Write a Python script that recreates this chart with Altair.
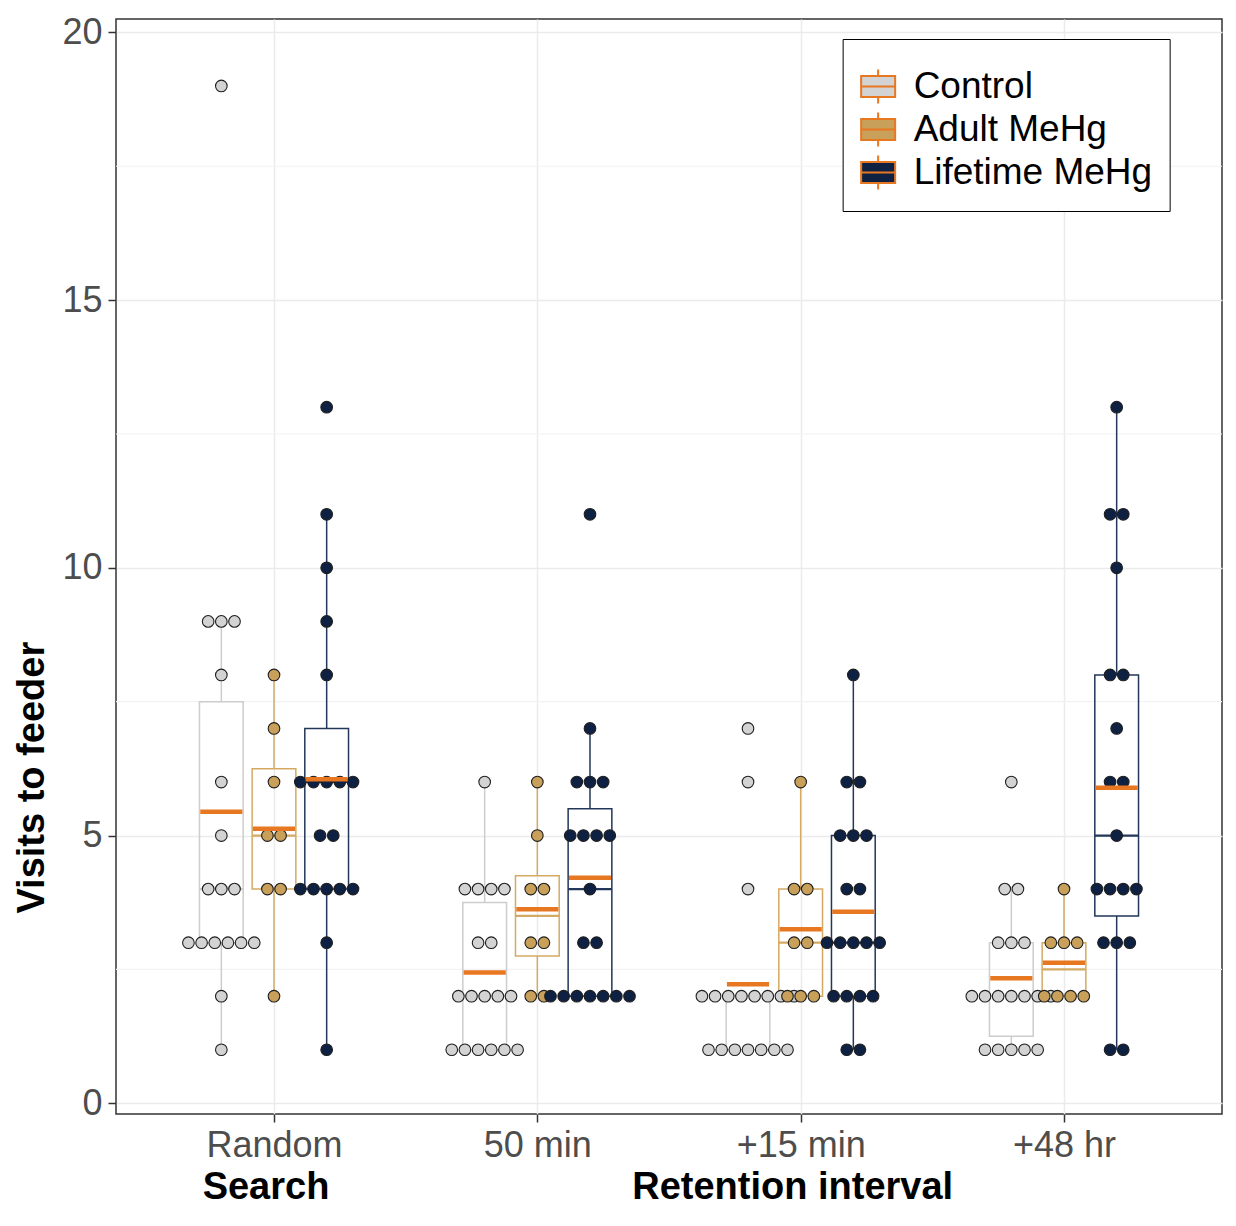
import altair as alt
import numpy as np
import pandas as pd

intervals = ["Random", "50 min", "+15 min", "+48 hr"]
groups = ["Control", "Adult MeHg", "Lifetime MeHg"]

random_control = [1, 2, 3, 3, 3, 3, 3, 3, 4, 4, 4, 5, 6, 8, 9, 9, 9, 19]
random_adult = [2, 4, 4, 5, 5, 6, 7, 8]
random_lifetime = [1, 3, 4, 4, 4, 4, 4, 5, 5, 6, 6, 6, 6, 6, 8, 9, 10, 11, 13]

min50_control = [1, 1, 1, 1, 1, 1, 2, 2, 2, 2, 2, 3, 3, 4, 4, 4, 4, 6]
min50_adult = [2, 2, 3, 3, 4, 4, 5, 6]
min50_lifetime = [2, 2, 2, 2, 2, 2, 2, 3, 3, 4, 5, 5, 5, 5, 6, 6, 6, 7, 11]

plus15_control = [1, 1, 1, 1, 1, 1, 1, 2, 2, 2, 2, 2, 2, 2, 2, 4, 6, 7]
plus15_adult = [2, 2, 2, 3, 3, 4, 4, 6]
plus15_lifetime = [1, 1, 2, 2, 2, 2, 3, 3, 3, 3, 3, 4, 4, 5, 5, 5, 6, 6, 8]

plus48_control = [1, 1, 1, 1, 1, 2, 2, 2, 2, 2, 2, 2, 3, 3, 3, 4, 4, 6]
plus48_adult = [2, 2, 2, 2, 3, 3, 3, 4]
plus48_lifetime = [1, 1, 3, 3, 3, 4, 4, 4, 4, 5, 6, 6, 7, 8, 8, 10, 11, 11, 13]

minor_grid = [2.5, 7.5, 12.5, 17.5]
y_ticks = [0, 5, 10, 15, 20]
x_titles = ["Search", "Retention interval"]
x_title_pos = [1, 3]

fill_colors = ["#d3d3d3", "#c9a05a", "#0e2142"]
box_colors = ["#cdcdcd", "#d4aa63", "#22375a"]
mean_color = "#e87722"

series = {
    "Random": [random_control, random_adult, random_lifetime],
    "50 min": [min50_control, min50_adult, min50_lifetime],
    "+15 min": [plus15_control, plus15_adult, plus15_lifetime],
    "+48 hr": [plus48_control, plus48_adult, plus48_lifetime],
}

W, H = 1106, 1095
DODGE = 0.2
STEP = 0.05
HALF_BOX = 0.083
HALF_MEAN = 0.08

dot_rows = []
box_rows = []
for i, iv in enumerate(intervals):
    for j, g in enumerate(groups):
        vals = series[iv][j]
        center = i + 1 + (j - 1) * DODGE
        for v in sorted(set(vals)):
            n = vals.count(v)
            for k in range(n):
                dot_rows.append({"interval": iv, "group": g, "value": v,
                                 "x": center + (k - (n - 1) / 2) * STEP})
        arr = np.array(vals, dtype=float)
        q1, med, q3 = np.percentile(arr, [25, 50, 75])
        iqr = q3 - q1
        hi = arr[arr <= q3 + 1.5 * iqr].max()
        lo = arr[arr >= q1 - 1.5 * iqr].min()
        box_rows.append({"interval": iv, "group": g, "bcolor": box_colors[j],
                         "center": center,
                         "x0": center - HALF_BOX, "x1": center + HALF_BOX,
                         "mx0": center - HALF_MEAN, "mx1": center + HALF_MEAN,
                         "q1": q1, "med": med, "q3": q3, "lo": lo, "hi": hi,
                         "mean": arr.mean()})

dots = pd.DataFrame(dot_rows)
boxes = pd.DataFrame(box_rows)

FONT = "Liberation Sans"
xscale = alt.Scale(domain=[0.4, 4.6], nice=False, zero=False)
yscale = alt.Scale(domain=[-0.2, 20.25], nice=False, zero=False)
label_list = "[" + ",".join("'" + s + "'" for s in intervals) + "]"
xaxis = alt.Axis(values=[1, 2, 3, 4], labelExpr=label_list + "[datum.value - 1]",
                 title=None, grid=True, labelPadding=6)
yaxis = alt.Axis(values=y_ticks, format="d", title="Visits to feeder",
                 titlePadding=10, titleY=H * (20.25 - 6.09) / 20.45, labelPadding=6)


def X(f):
    return alt.X(f, scale=xscale, axis=xaxis)


def Y(f):
    return alt.Y(f, scale=yscale, axis=yaxis)


stroke_enc = alt.Stroke("bcolor:N", scale=None)

minor = alt.Chart(pd.DataFrame({"g": minor_grid})).mark_rule(
    color="#f2f2f2", strokeWidth=1.2).encode(y=Y("g:Q"))

upper = alt.Chart(boxes).mark_rule(strokeWidth=1.5).encode(
    x=X("center:Q"), y=Y("q3:Q"), y2="hi:Q", stroke=stroke_enc)
lower = alt.Chart(boxes).mark_rule(strokeWidth=1.5).encode(
    x=X("center:Q"), y=Y("q1:Q"), y2="lo:Q", stroke=stroke_enc)
rects = alt.Chart(boxes).mark_rect(fillOpacity=0, strokeWidth=1.5).encode(
    x=X("x0:Q"), x2="x1:Q", y=Y("q1:Q"), y2="q3:Q", stroke=stroke_enc)
medians = alt.Chart(boxes).mark_rule(strokeWidth=2.2).encode(
    x=X("x0:Q"), x2="x1:Q", y=Y("med:Q"), stroke=stroke_enc)

legend_path = "M-1,-0.62L1,-0.62L1,0.62L-1,0.62Z M-1,0L1,0 M0,-0.62L0,-1 M0,0.62L0,1"
points = alt.Chart(dots).mark_point(filled=True, size=135, stroke="#1e1e1e",
                                    strokeWidth=1.1, opacity=1).encode(
    x=X("x:Q"), y=Y("value:Q"),
    fill=alt.Fill("group:N", scale=alt.Scale(domain=groups, range=fill_colors),
                  legend=alt.Legend(title=" ", titleFontSize=10, titlePadding=2,
                                    orient="none", legendX=W * 0.657, legendY=20,
                                    symbolType=legend_path, symbolSize=1156,
                                    symbolStrokeColor=mean_color, symbolStrokeWidth=2,
                                    labelFont=FONT, labelFontSize=37, labelColor="black",
                                    labelLimit=500, labelOffset=17, rowPadding=0,
                                    padding=17, strokeColor="black", fillColor="white")))

means = alt.Chart(boxes).mark_rule(stroke=mean_color, strokeWidth=4.5).encode(
    x=X("mx0:Q"), x2="mx1:Q", y=Y("mean:Q"))

titles = alt.Chart(pd.DataFrame({"label": x_titles, "pos": x_title_pos})).mark_text(
    font=FONT, fontSize=38, fontWeight="bold", color="black", baseline="middle",
    dx=-8, y=H + 74).encode(x=X("pos:Q"), text="label:N")

chart = alt.layer(minor, upper, lower, rects, medians, points, means, titles).properties(
    width=W, height=H, padding={"left": 5, "top": 6, "right": 5, "bottom": 0}
).configure_view(stroke="#333333", strokeWidth=1.5).configure_axis(
    domain=False, tickColor="#333333", tickSize=8, tickWidth=1.5,
    gridColor="#ebebeb", gridWidth=1.5,
    labelColor="#4d4d4d", labelFont=FONT, labelFontSize=36,
    titleFont=FONT, titleFontSize=38, titleFontWeight="bold", titleColor="black"
).configure_legend(titleFont=FONT)

chart.save("out.html", embed_options={"renderer": "svg", "actions": False})
